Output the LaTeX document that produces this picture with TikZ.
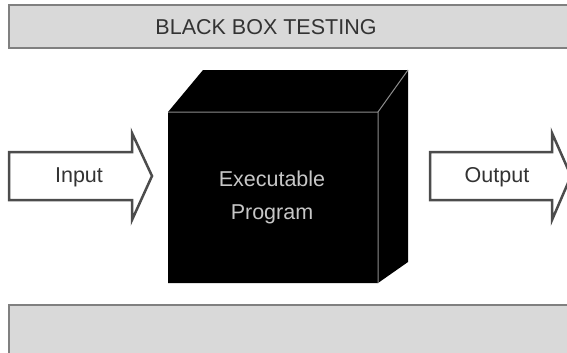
\documentclass[tikz,border=0pt]{standalone}
\usepackage{fontspec}
\setmainfont{Liberation Sans}
\begin{document}
\begin{tikzpicture}[x=1pt,y=-1pt,
  bar/.style={fill=black!15, draw=black!50, line width=2.5pt},
  arrowshape/.style={fill=white, draw=black!70, line width=2.5pt, line join=miter},
  lbl/.style={font=\fontsize{21.5}{33}\selectfont, text=black!80, inner sep=0pt},
  ]
\useasboundingbox (0,0) rectangle (567,353);
\clip (0,0) rectangle (567,353);
% bars
\draw[bar] (9,5) rectangle (590,48);
\node[lbl] (title) at (266,27) {BLACK BOX TESTING};
\draw[bar] (9,305) rectangle (590,370);
% box
\fill[black] (168,112) -- (203,70) -- (408,70) -- (408,262) -- (378,283) -- (168,283) -- cycle;
\draw[black!45, line width=1pt] (168,112) -- (378,112) -- (378,283) (378,112) -- (408,70);
\node[lbl, text=black!22, align=center] (prog) at (272,197) {Executable\\Program};
% arrows
\draw[arrowshape] (9,152) -- (132,152) -- (132,133) -- (152,176) -- (132,220) -- (132,200) -- (9,200) -- cycle;
\node[lbl] (in) at (79,177) {Input};
\draw[arrowshape] (430,152) -- (552,152) -- (552,133) -- (571,176) -- (552,220) -- (552,200) -- (430,200) -- cycle;
\node[lbl] (out) at (497,177) {Output};
\end{tikzpicture}
\end{document}
